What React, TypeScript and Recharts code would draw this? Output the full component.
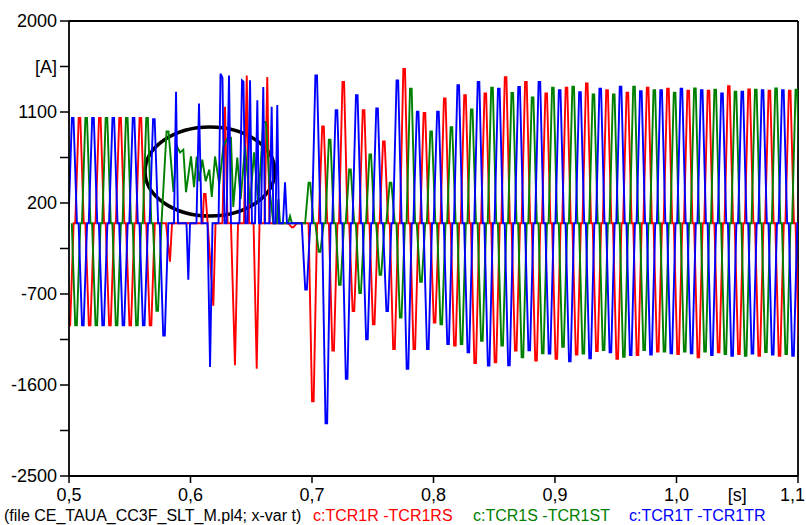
import { LineChart, Line, XAxis, YAxis, ReferenceArea, ReferenceLine } from 'recharts'

const FONT = '"Liberation Sans", Arial, sans-serif'

// 60 Hz, peaks every half cycle
const PERIOD = 0.0167
const HALF = PERIOD / 2

// time of the first (negative) half-cycle peak of each phase, s
const startR = 0.5003
const startS = 0.5058
const startT = 0.4947

// half-cycle peak currents [A], alternating negative / positive
const peaksR = [
  -1010, 1040, -1010, 1040, -1010, 1040, -1010, 1040, -1010,
  0, 0, 0, 0, 0, 0, 0, 0, 0, 0, 0, 0,
  0, -40, 0,
  -1760, 956, -1260, 1396, -869, 1119, -1000, 809, -1245, 1527,
  -1245, 1090, -983, 1234, -1211, 1266, -1384, 1283, -1375, 1445,
  -1260, 1396, -1358, 1283, -1342, 1340, -1300, 1382, -1265, 1316,
  -1340, 1290, -1304, 1340, -1270, 1330, -1294, 1311, -1326, 1311,
  -1277, 1355, -1294, 1322, -1310, 1311, -1310, 1311, -1300,
]

const peaksS = [
  -1010, 1040, -1010, 1040, -1010, 1040, -1010, 1040, -866,
  0, 0, 0, 0, 0, 0, 0, 0, 0, 0, 0, 0, 0,
  0,
  402, -282, 826, -609, 533, -690, 679, -511, 402, -934,
  1331, -580, 907, -1000, 950, -1196, 1126, -1163, 1341, -1211,
  1288, -1326, 1243, -1287, 1341, -1221, 1350, -1290, 1274, -1255,
  1274, -1320, 1350, -1255, 1316, -1270, 1290, -1270, 1334, -1270,
  1320, -1294, 1300, -1310, 1320, -1275, 1334, -1294, 1320,
]

const peaksT = [
  -1010, 1040, -1010, 1040, -1010, 1040, -1010, 1040, -1010, 1030, -1110,
  0, 0, 0, 0, 0, 0, 0, 0, 0, 0, 0, 0, 0,
  -657, 1462, -1978, 1119, -1538, 1266, -1147, 1136, -869, 1413,
  -1440, 1103, -1245, 1103, -1196, 1364, -1277, 1396, -1407, 1331,
  -1404, 1347, -1257, 1396, -1290, 1316, -1366, 1296, -1337, 1330,
  -1277, 1350, -1304, 1306, -1300, 1316, -1287, 1330, -1287, 1316,
  -1304, 1283, -1310, 1300, -1290, 1316, -1300, 1316, -1310, 1300,
]

// fault interval: samples read point by point [t, A]
const winR: [number, number] = [0.574, 0.67]
const rawR: [number, number][] = [
  [0.5798, 0], [0.5831, -380], [0.5848, 0],
  [0.6099, 0], [0.6111, 290], [0.6124, 290], [0.6188, -817], [0.6206, 0],
  [0.6263, 0], [0.6284, 1152], [0.6305, 0],
  [0.6333, 0], [0.6366, -1404], [0.6391, 0],
  [0.644, 0], [0.6463, 1460], [0.6482, 0],
  [0.6519, 0], [0.6545, -1440], [0.6568, 0],
  [0.6609, 0], [0.6632, 1445], [0.665, 0],
]

const winS: [number, number] = [0.579, 0.686]
const rawS: [number, number][] = [
  [0.5803, 907], [0.5819, 907], [0.586, 310], [0.5889, 760], [0.5914, 700],
  [0.5941, 728], [0.5963, 307], [0.6004, 662], [0.6029, 356], [0.6051, 660],
  [0.6072, 415], [0.6097, 630], [0.6125, 415], [0.6155, 530], [0.6175, 260],
  [0.6202, 660], [0.6237, 385], [0.627, 757], [0.6306, 845], [0.6333, 845],
  [0.6352, 160], [0.6385, 650], [0.6413, 240], [0.6449, 757], [0.649, 190],
  [0.6523, 700], [0.6558, 200], [0.6599, 1000], [0.6621, 1000], [0.6654, 300],
  [0.6682, 0], [0.671, 0], [0.6723, 240], [0.6737, 0],
  [0.6803, 0], [0.6819, 70], [0.6835, 0],
]

const winT: [number, number] = [0.584, 0.69]
const rawT: [number, number][] = [
  [0.5823, 0], [0.5864, 0], [0.5881, 1300], [0.5897, 0],
  [0.5967, 0], [0.5982, -560], [0.5996, 0],
  [0.6049, 0], [0.607, 1185], [0.6091, 0],
  [0.614, 0], [0.6161, -1423], [0.6181, 0],
  [0.6231, 0], [0.6247, 1478], [0.6263, 1440], [0.628, 0],
  [0.6296, 0], [0.6317, 1460], [0.6333, 0],
  [0.6403, 0], [0.6424, 1413], [0.6436, 1400], [0.6453, 0],
  [0.6469, 0], [0.649, 1413], [0.6506, 0],
  [0.6531, 0], [0.655, 1217], [0.6564, 0],
  [0.658, 0], [0.6599, 1347], [0.6613, 0],
  [0.665, 0], [0.6668, 1152], [0.6683, 0],
  [0.67, 0], [0.6714, 1168], [0.6728, 0],
  [0.6761, 0], [0.6778, 405], [0.6794, 0],
]

const yTicks = [-2500, -2050, -1600, -1150, -700, -250, 200, 650, 1100, 1550, 2000]
const yLabels: Record<number, string> = {
  '-2500': '-2500', '-1600': '-1600', '-700': '-700', 200: '200', 1100: '1100', 1550: '[A]', 2000: '2000',
}
const xTicks = [0.5, 0.6, 0.7, 0.8, 0.9, 1.0, 1.05, 1.1]

type Pt = { t: number; v: number }

// each half-cycle pulse: ramp from zero, short flat top, ramp back to zero
const build = (start: number, peaks: number[], raw: [number, number][], win: [number, number]): Pt[] => {
  const pts: Pt[] = []
  peaks.forEach((v, k) => {
    const tk = start + k * HALF
    if (tk > win[0] && tk < win[1]) return
    pts.push(
      { t: tk - 0.21 * PERIOD, v: 0 },
      { t: tk - 0.04 * PERIOD, v },
      { t: tk + 0.04 * PERIOD, v },
      { t: tk + 0.21 * PERIOD, v: 0 },
    )
  })
  raw.forEach(([t, v]) => pts.push({ t, v }))
  return pts.sort((a, b) => a.t - b.t)
}

const dataR = build(startR, peaksR, rawR, winR)
const dataS = build(startS, peaksS, rawS, winS)
const dataT = build(startT, peaksT, rawT, winT)

const XTick = (props: any) => {
  const { x, y, payload } = props
  const unit = Math.abs(payload.value - 1.05) < 1e-6
  const last = Math.abs(payload.value - 1.1) < 1e-6
  return (
    <g>
      {!unit && <line x1={x} x2={x} y1={y - 11} y2={y - 4} stroke="#000" strokeWidth={1.5} />}
      <text
        x={last ? 805 : x}
        y={y + 14}
        textAnchor={last ? 'end' : 'middle'}
        fontSize={18}
        fontFamily={FONT}
        fill="#000"
      >
        {unit ? '[s]' : payload.value.toFixed(1).replace('.', ',')}
      </text>
    </g>
  )
}

const Ellipse = (p: any) => (
  <ellipse
    cx={p.x + p.width / 2}
    cy={p.y + p.height / 2}
    rx={p.width / 2}
    ry={p.height / 2}
    fill="none"
    stroke="#000"
    strokeWidth={3.5}
  />
)

const App = () => {
  return (
    <div style={{ position: 'absolute', left: 0, top: 0, width: 806, height: 525, background: '#fff' }}>
      <LineChart width={806} height={525} margin={{ top: 21, right: 8, bottom: 19, left: 0 }}>
        <XAxis
          type="number"
          dataKey="t"
          domain={[0.5, 1.1]}
          allowDataOverflow
          ticks={xTicks}
          interval={0}
          height={30}
          tickSize={7}
          tickMargin={4}
          tickLine={false}
          tick={<XTick />}
          axisLine={{ stroke: '#000', strokeWidth: 1.8 }}
        />
        <YAxis
          type="number"
          domain={[-2500, 2000]}
          allowDataOverflow
          ticks={yTicks}
          interval={0}
          width={69}
          tickSize={9}
          tickMargin={3}
          tickFormatter={(v: number) => yLabels[v] ?? ''}
          tick={{ fill: '#000', fontSize: 18, fontFamily: FONT }}
          tickLine={{ stroke: '#000', strokeWidth: 1.5 }}
          axisLine={{ stroke: '#000', strokeWidth: 1.8 }}
        />
        <ReferenceLine y={2000} stroke="#000" strokeWidth={1.8} />
        <ReferenceLine x={1.1} stroke="#000" strokeWidth={1.8} />
        <Line data={dataR} dataKey="v" type="linear" stroke="#ff0000" strokeWidth={1.9} dot={false} isAnimationActive={false} />
        <Line data={dataS} dataKey="v" type="linear" stroke="#008000" strokeWidth={1.9} dot={false} isAnimationActive={false} />
        <Line data={dataT} dataKey="v" type="linear" stroke="#0000ff" strokeWidth={1.9} dot={false} isAnimationActive={false} />
        <ReferenceArea x1={0.5626} x2={0.6695} y1={71} y2={952} shape={Ellipse} />
      </LineChart>
      <svg width={806} height={525} style={{ position: 'absolute', left: 0, top: 0, pointerEvents: 'none' }}>
        <g fontFamily={FONT} fontSize={16}>
          <text x={4} y={521} fill="#000">(file CE_TAUA_CC3F_SLT_M.pl4; x-var t)</text>
          <text x={313} y={521} fill="#ff0000">c:TCR1R -TCR1RS</text>
          <text x={473} y={521} fill="#008000">c:TCR1S -TCR1ST</text>
          <text x={629} y={521} fill="#0000ff">c:TCR1T -TCR1TR</text>
        </g>
      </svg>
    </div>
  )
}

export default App
